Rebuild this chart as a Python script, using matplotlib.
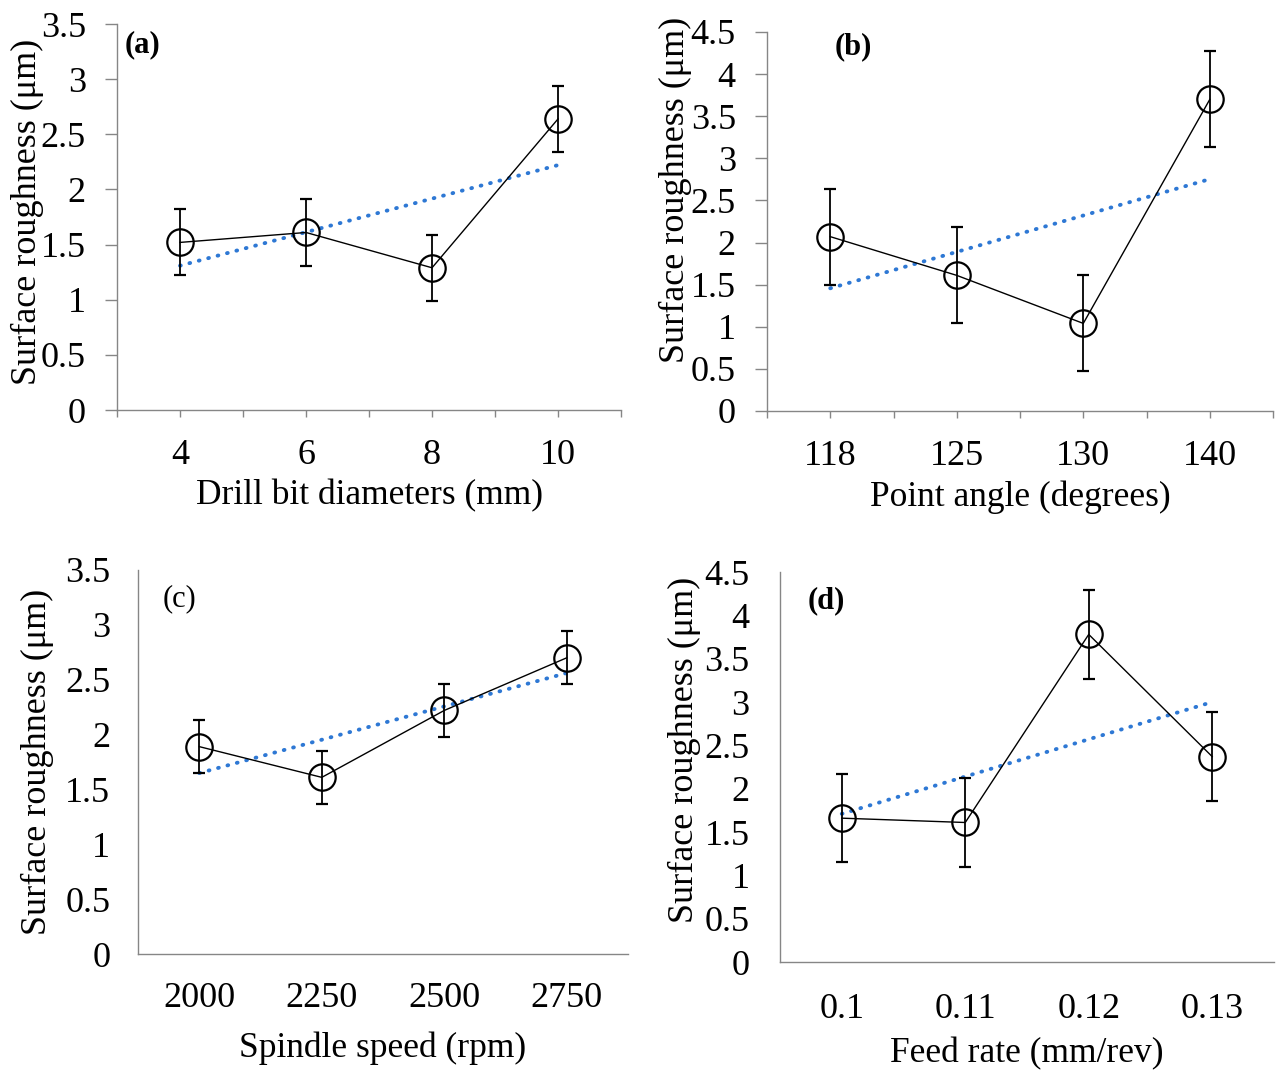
import numpy as np
import matplotlib.pyplot as plt

plt.rcParams['font.family'] = ['Liberation Serif', 'DejaVu Serif']

# panel data
diam_labels = ['4', '6', '8', '10']
diam_ra = [1.52, 1.61, 1.29, 2.64]
diam_err = [0.30, 0.30, 0.30, 0.30]

angle_labels = ['118', '125', '130', '140']
angle_ra = [2.07, 1.61, 1.04, 3.70]
angle_err = [0.57, 0.57, 0.57, 0.57]

speed_labels = ['2000', '2250', '2500', '2750']
speed_ra = [1.89, 1.61, 2.22, 2.70]
speed_err = [0.24, 0.24, 0.24, 0.24]

feed_labels = ['0.1', '0.11', '0.12', '0.13']
feed_ra = [1.66, 1.61, 3.78, 2.37]
feed_err = [0.51, 0.51, 0.51, 0.51]

ylabel = 'Surface roughness (\u03bcm)'
axis_grey = '#868686'
trend_blue = '#2E78D4'

fig = plt.figure(figsize=(12.76, 10.70), dpi=100)

panels = [
    # rect, labels, values, errors, xlabel, ymax, tag, tag pos, bold tag,
    # ticks shown, x tick pad, xlabel pad, y tick pad, ylabel coords
    ([0.0917, 0.6168, 0.3950, 0.3607], diam_labels, diam_ra, diam_err,
     'Drill bit diameters (mm)', 3.5, '(a)', (0.016, 0.946), True,
     True, 16, 5, 14, (-0.145, 0.513)),
    ([0.6011, 0.6159, 0.3966, 0.3542], angle_labels, angle_ra, angle_err,
     'Point angle (degrees)', 4.5, '(b)', (0.134, 0.960), True,
     True, 16, 5, 14, (-0.148, 0.583)),
    ([0.1082, 0.1084, 0.3840, 0.3589], speed_labels, speed_ra, speed_err,
     'Spindle speed (rpm)', 3.5, '(c)', (0.051, 0.924), False,
     False, 20, 12, 20, (-0.172, 0.50)),
    ([0.6113, 0.1009, 0.3871, 0.3645], feed_labels, feed_ra, feed_err,
     'Feed rate (mm/rev)', 4.5, '(d)', (0.055, 0.927), True,
     False, 22, 8, 22, (-0.160, 0.544)),
]

for (rect, labels, ra, err, xlabel, ymax, tag, tagpos, bold,
     ticks, xpad, xlpad, ypad, ylcoords) in panels:
    ax = fig.add_axes(rect)
    x = np.arange(len(labels))

    # linear trend line (least squares fit of the four means)
    k, b = np.polyfit(x, ra, 1)
    ax.plot(x, k * x + b, color=trend_blue, linestyle=(0, (0.2, 2.3)),
            linewidth=2.8, dash_capstyle='round', zorder=2)

    ax.errorbar(x, ra, yerr=err, color='black', linewidth=1.0,
                elinewidth=1.3, capsize=4.5, capthick=1.3,
                marker='o', markersize=19, markerfacecolor='none',
                markeredgecolor='black', markeredgewidth=1.6, zorder=3)

    ax.set_xlim(-0.5, len(labels) - 0.5)
    ax.set_ylim(0, ymax)
    yt = np.arange(0, ymax + 0.01, 0.5)
    ax.set_yticks(yt)
    ax.set_yticklabels([f'{v:g}' for v in yt])
    ax.set_xticks(x)
    ax.set_xticklabels(labels)

    for s in ['top', 'right']:
        ax.spines[s].set_visible(False)
    for s in ['left', 'bottom']:
        ax.spines[s].set_color(axis_grey)
        ax.spines[s].set_linewidth(1.0)

    if ticks:
        ax.set_xticks(np.arange(-0.5, len(labels)), minor=True)
        ax.tick_params(axis='x', which='both', length=5, width=1.0,
                       color=axis_grey, direction='out')
        ax.tick_params(axis='x', which='major', pad=xpad, labelsize=26)
        ax.tick_params(axis='y', length=8.5, width=1.0, color=axis_grey,
                       pad=ypad, labelsize=26)
    else:
        ax.tick_params(axis='x', length=0, pad=xpad, labelsize=26)
        ax.tick_params(axis='y', length=0, pad=ypad, labelsize=26)

    ax.set_xlabel(xlabel, fontsize=25.5, labelpad=xlpad)
    ax.set_ylabel(ylabel, fontsize=26)
    ax.yaxis.set_label_coords(*ylcoords)
    ax.text(tagpos[0], tagpos[1], tag, transform=ax.transAxes,
            fontsize=22, fontweight='bold' if bold else 'normal',
            ha='left', va='center')

fig.savefig('out.png', dpi=100)
